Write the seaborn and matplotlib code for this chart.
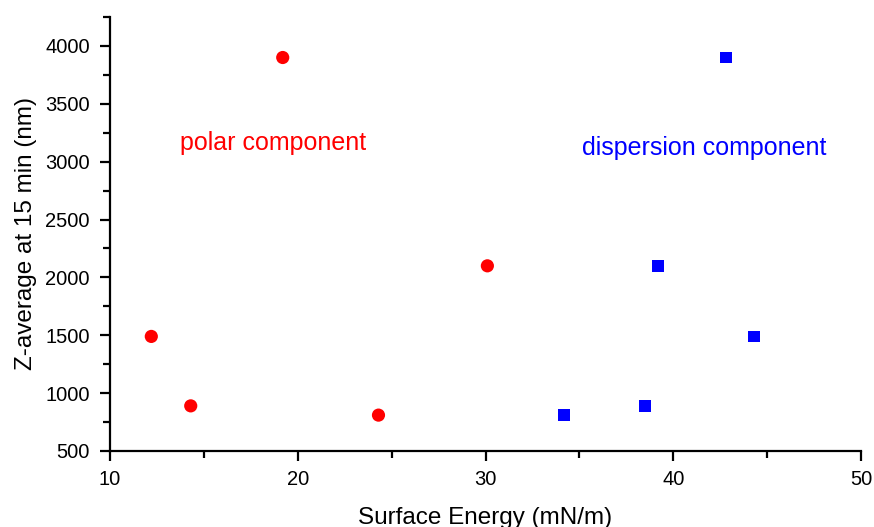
import matplotlib
matplotlib.use("Agg")
import matplotlib.pyplot as plt
import seaborn as sns
import pandas as pd
from matplotlib.ticker import MultipleLocator

polar_x = [12.2, 14.3, 19.2, 24.3, 30.1]
polar_y = [1490, 890, 3900, 810, 2100]
disp_x = [34.2, 38.5, 39.2, 42.8, 44.3]
disp_y = [810, 890, 2100, 3900, 1490]

sns.set_style("ticks")
plt.rcParams['font.family'] = ['Liberation Sans', 'DejaVu Sans']
plt.rcParams['axes.labelcolor'] = 'black'
plt.rcParams['text.color'] = 'black'

fig = plt.figure(figsize=(8.74, 5.27), dpi=100)
ax = fig.add_axes([110/874, 76/527, (861-110)/874, (451-17)/527])

dfp = pd.DataFrame({"x": polar_x, "y": polar_y})
dfd = pd.DataFrame({"x": disp_x, "y": disp_y})
sns.scatterplot(data=dfp, x="x", y="y", ax=ax, color="#ff0000", marker="o", s=90, edgecolor="none")
sns.scatterplot(data=dfd, x="x", y="y", ax=ax, color="#0000ff", marker="s", s=72, edgecolor="none")

ax.set_xlim(10, 50)
ax.set_ylim(500, 4250)
ax.xaxis.set_major_locator(MultipleLocator(10))
ax.xaxis.set_minor_locator(MultipleLocator(5))
ax.set_yticks([500, 1000, 1500, 2000, 2500, 3000, 3500, 4000])
ax.yaxis.set_minor_locator(MultipleLocator(250))

for s in ["top", "right"]:
    ax.spines[s].set_visible(False)
for s in ["left", "bottom"]:
    ax.spines[s].set_linewidth(1.6)
    ax.spines[s].set_color("black")
ax.tick_params(which="major", length=7.5, width=1.6, direction="out", labelsize=14.5, colors="black")
ax.tick_params(axis="x", which="major", pad=6)
ax.tick_params(axis="y", which="major", pad=7)
ax.tick_params(which="minor", length=5, width=1.6, direction="out", colors="black")

ax.set_xlabel("Surface Energy (mN/m)", fontsize=17.5, labelpad=13, color="black")
ax.set_ylabel("Z-average at 15 min (nm)", fontsize=17.5, labelpad=6, color="black")

ax.text(13.73, 3160, "polar component", color="#ff0000", fontsize=18, va="center", ha="left")
ax.text(35.12, 3118, "dispersion component", color="#0000ff", fontsize=18, va="center", ha="left")

fig.savefig("out.png", dpi=100)
